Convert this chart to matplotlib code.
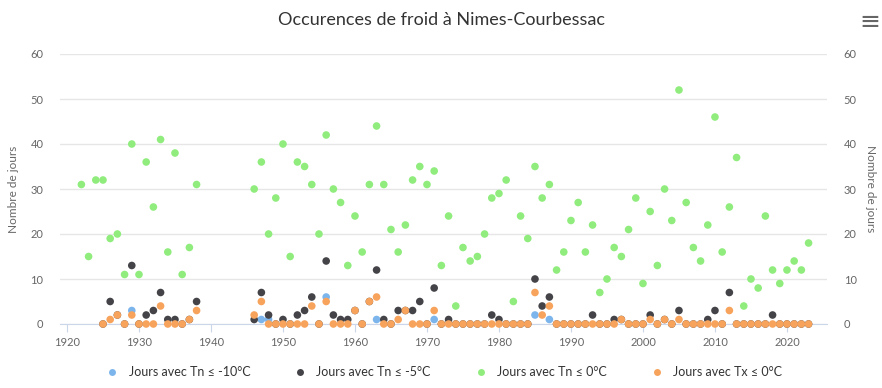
import matplotlib
matplotlib.use("Agg")
import matplotlib.pyplot as plt
from matplotlib.lines import Line2D

plt.rcParams['font.family'] = ['Lato', 'DejaVu Sans']

# years with data (gap 1939-1945)
years = list(range(1922, 1939)) + list(range(1946, 2024))

# Jours avec Tn <= 0°C
tn0 = [31, 15, 32, 32, 19, 20, 11, 40, 11, 36, 26, 41, 16, 38, 11, 17, 31,
       30, 36, 20, 28, 40, 15, 36, 35, 31, 20, 42, 30, 27, 13, 24, 16, 31, 44, 31, 21, 16, 22, 32, 35, 31, 34,
       13, 24, 4, 17, 14, 15, 20, 28, 29, 32, 5, 24, 19, 35, 28, 31, 12, 16, 23, 27, 16, 22, 7, 10, 17, 15, 21,
       28, 9, 25, 13, 30, 23, 52, 27, 17, 14, 22, 46, 16, 26, 37, 4, 10, 8, 24, 12, 9, 12, 14, 12, 18]

# Jours avec Tn <= -5°C
tn5 = [None, None, None, 0, 5, 2, 0, 13, 0, 2, 3, 7, 1, 1, 0, 1, 5,
       1, 7, 2, 0, 1, 0, 2, 3, 6, 0, 14, 2, 1, 1, 3, 0, 5, 12, 1, 0, 3, 3, 3, 5, 0, 8,
       0, 1, 0, 0, 0, 0, 0, 2, 1, 0, 0, 0, 0, 10, 4, 6, 0, 0, 0, 0, 0, 2, 0, 0, 1, 1, 0,
       0, 0, 2, 0, 1, 0, 3, 0, 0, 0, 1, 3, 0, 7, 0, 0, 0, 0, 0, 2, 0, 0, 0, 0, 0]

# Jours avec Tn <= -10°C (only non-zero years are shown)
tn10 = [None, None, None, None, None, None, None, 3, None, None, None, None, None, None, None, None, None,
        None, 1, 1, None, None, None, None, None, None, None, 6, None, None, None, None, None, None, 1,
        None, None, None, None, None, None, None, 1,
        None, None, None, None, None, None, None, None, None, None, None, None, None, 2, None, 1,
        None, None, None, None, None, None, None, None, None, None, None,
        None, None, None, None, None, None, None, None, None, None, None, None, None, None, None,
        None, None, None, None, None, None, None, None, None, None]

# Jours avec Tx <= 0°C
tx0 = [None, None, None, 0, 1, 2, 0, 2, 0, 0, 0, 4, 0, 0, 0, 1, 3,
       2, 5, 0, 0, 0, 0, 0, 0, 4, 0, 5, 0, 0, 0, 3, 0, 5, 6, 0, 0, 1, 3, 0, 0, 0, 3,
       0, 0, 0, 0, 0, 0, 0, 0, 0, 0, 0, 0, 0, 7, 2, 4, 0, 0, 0, 0, 0, 0, 0, 0, 0, 1, 0,
       0, 0, 1, 0, 1, 0, 1, 0, 0, 0, 0, 0, 0, 3, 0, 0, 0, 0, 0, 0, 0, 0, 0, 0, 0]

series = [
    ("Jours avec Tn ≤ -10°C", tn10, "#7cb5ec"),
    ("Jours avec Tn ≤ -5°C", tn5, "#434348"),
    ("Jours avec Tn ≤ 0°C", tn0, "#90ed7d"),
    ("Jours avec Tx ≤ 0°C", tx0, "#f7a35c"),
]

fig = plt.figure(figsize=(8.82, 3.88), dpi=100)
ax = fig.add_axes([60 / 882, 64 / 388, 767 / 882, 270 / 388])

handles = []
for k, (name, vals, col) in enumerate(series):
    xs = [y for y, v in zip(years, vals) if v is not None]
    ys = [v for v in vals if v is not None]
    ax.scatter(xs, ys, s=30, color=col, edgecolors='none', zorder=3 + k, clip_on=False)
    handles.append(Line2D([], [], marker='o', linestyle='none', markersize=5,
                          markerfacecolor=col, markeredgecolor='none', label=name))

ax.set_xlim(1919.03, 2025.56)
ax.set_ylim(0, 60)
ax.set_yticks(range(0, 61, 10))
ax.set_xticks(range(1920, 2021, 10))
ax.grid(axis='y', color='#e6e6e6', linewidth=1)
ax.set_axisbelow(True)
for s in ['top', 'left', 'right']:
    ax.spines[s].set_visible(False)
ax.spines['bottom'].set_color('#ccd6eb')
ax.tick_params(axis='x', colors='#ccd6eb', length=6, labelcolor='#666666', labelsize=8)
ax.tick_params(axis='y', length=0, labelcolor='#666666', labelsize=8, pad=12)
ax.set_ylabel("Nombre de jours", color='#666666', fontsize=8.5, labelpad=8)

ax2 = ax.twinx()
ax2.set_ylim(0, 60)
ax2.set_yticks(range(0, 61, 10))
for s in ['top', 'left', 'right', 'bottom']:
    ax2.spines[s].set_visible(False)
ax2.tick_params(axis='y', length=0, labelcolor='#666666', labelsize=8, pad=12)
ax2.set_ylabel("Nombre de jours", color='#666666', fontsize=8.5, rotation=270, labelpad=14)

fig.text(0.5, 1 - 20 / 388, "Occurences de froid à Nimes-Courbessac", ha='center', va='center',
         fontsize=13, color='#333333')
fig.text(870 / 882, 1 - 22 / 388, "≡", ha='center', va='center', fontsize=18, color='#666666',
         family=['DejaVu Sans'])

fig.legend(handles=handles, loc='center', bbox_to_anchor=(0.5, 1 - 372 / 388), ncol=4,
           frameon=False, fontsize=9, handletextpad=0.3, columnspacing=3.0, labelcolor='#333333')

fig.savefig("out.png", dpi=100)
